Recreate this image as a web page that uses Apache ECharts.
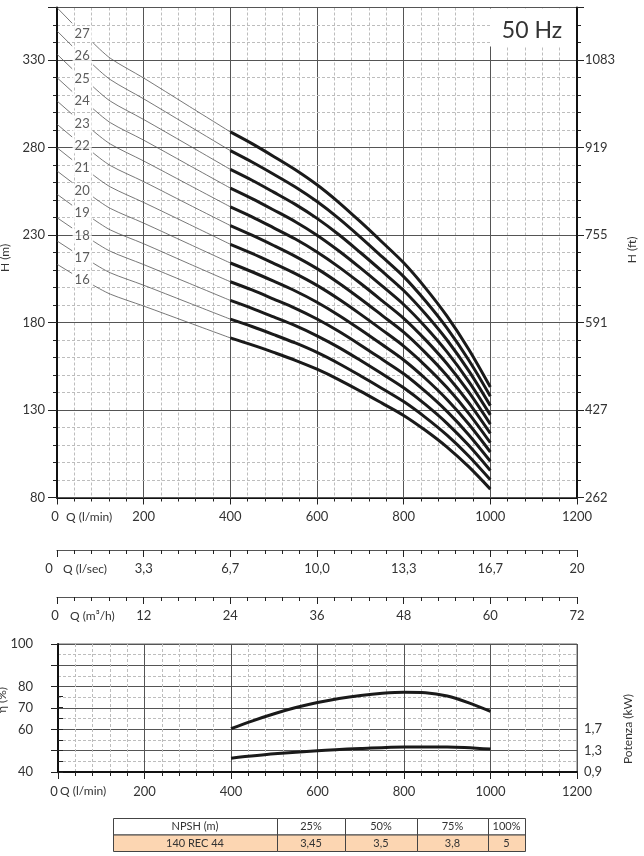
<!DOCTYPE html>
<html>
<head>
<meta charset="utf-8">
<script src="https://cdn.jsdelivr.net/npm/echarts@6/dist/echarts.min.js"></script>
<style>
  html, body { margin: 0; padding: 0; background: #fff; }
  #chart { width: 644px; height: 856px; }
</style>
</head>
<body>
<div id="chart"></div>
<script>
// Q (l/min) where the curves were read: 0-35 stub, 83-400 thin part, 400-1000 thick part
var qPoints = [0, 35, 83, 123, 200, 300, 400, 450, 500, 550, 600, 650, 700, 750, 800, 850, 900, 950, 1000];
var stages = [16, 17, 18, 19, 20, 21, 22, 23, 24, 25, 26, 27];
// H (m) per stage at qPoints
var headCurves = [
  [213.3, 208.0, 201.4, 196.2, 189.4, 180.3, 171.2, 167.2, 162.9, 158.4, 153.3, 147.4, 140.8, 133.9, 126.9, 118.4, 108.8, 97.6, 84.8],
  [226.6, 221.0, 214.0, 208.4, 201.3, 191.6, 181.9, 177.7, 173.1, 168.3, 162.9, 156.6, 149.6, 142.3, 134.8, 125.8, 115.6, 103.7, 90.1],
  [239.9, 234.0, 226.6, 220.7, 213.1, 202.9, 192.6, 188.1, 183.2, 178.2, 172.4, 165.8, 158.4, 150.7, 142.7, 133.2, 122.4, 109.8, 95.4],
  [253.3, 247.0, 239.2, 232.9, 225.0, 214.1, 203.3, 198.6, 193.4, 188.1, 182.0, 175.0, 167.2, 159.0, 150.7, 140.6, 129.2, 115.9, 100.7],
  [266.6, 260.0, 251.8, 245.2, 236.8, 225.4, 214.0, 209.0, 203.6, 198.0, 191.6, 184.2, 176.0, 167.4, 158.6, 148.0, 136.0, 122.0, 106.0],
  [279.9, 273.0, 264.4, 257.5, 248.6, 236.7, 224.7, 219.5, 213.8, 207.9, 201.2, 193.4, 184.8, 175.8, 166.5, 155.4, 142.8, 128.1, 111.3],
  [293.3, 286.0, 277.0, 269.7, 260.5, 247.9, 235.4, 229.9, 224.0, 217.8, 210.8, 202.6, 193.6, 184.1, 174.5, 162.8, 149.6, 134.2, 116.6],
  [306.6, 299.0, 289.6, 282.0, 272.3, 259.2, 246.1, 240.4, 234.1, 227.7, 220.3, 211.8, 202.4, 192.5, 182.4, 170.2, 156.4, 140.3, 121.9],
  [319.9, 312.0, 302.2, 294.2, 284.2, 270.5, 256.8, 250.8, 244.3, 237.6, 229.9, 221.0, 211.2, 200.9, 190.3, 177.6, 163.2, 146.4, 127.2],
  [333.3, 325.0, 314.8, 306.5, 296.0, 281.8, 267.5, 261.3, 254.5, 247.5, 239.5, 230.3, 220.0, 209.3, 198.3, 185.0, 170.0, 152.5, 132.5],
  [346.6, 338.0, 327.3, 318.8, 307.8, 293.0, 278.2, 271.7, 264.7, 257.4, 249.1, 239.5, 228.8, 217.6, 206.2, 192.4, 176.8, 158.6, 137.8],
  [359.9, 351.0, 339.9, 331.0, 319.7, 304.3, 288.9, 282.2, 274.9, 267.3, 258.7, 248.7, 237.6, 226.0, 214.1, 199.8, 183.6, 164.7, 143.1]
];
// where the stage numbers sit (in the gap of each thin line)
var labelQ = 58;
var labelH = [204.3, 216.9, 229.4, 242.6, 255.1, 268.3, 280.9, 293.4, 306.6, 319.1, 332.3, 344.9];

// efficiency and power curves
var qEff = [400, 450, 500, 550, 600, 650, 700, 750, 800, 850, 900, 950, 1000];
var effValues = [60.3, 64.0, 67.3, 70.2, 72.6, 74.5, 75.9, 76.9, 77.4, 77.2, 75.6, 72.4, 68.4];
var qPow = [400, 500, 600, 700, 800, 900, 1000];
var powValues = [1.16, 1.24, 1.30, 1.34, 1.37, 1.37, 1.33];

// tick labels
var hTicks = [80, 130, 180, 230, 280, 330];
var hLabels = ['80', '130', '180', '230', '280', '330'];
var hFtLabels = ['262', '427', '591', '755', '919', '1083'];
var qTicks = [200, 400, 600, 800, 1000, 1200];
var qLminLabels = ['200', '400', '600', '800', '1000', '1200'];
var qLsecLabels = ['3,3', '6,7', '10,0', '13,3', '16,7', '20'];
var qM3hLabels = ['12', '24', '36', '48', '60', '72'];
var effTicks = [40, 60, 70, 80, 100];
var effLabels = ['40', '60', '70', '80', '100'];
var powTicks = [0.9, 1.3, 1.7];
var powLabels = ['0,9', '1,3', '1,7'];

// NPSH table
var npshHead = ['NPSH (m)', '25%', '50%', '75%', '100%'];
var npshRow = ['140 REC 44', '3,45', '3,5', '3,8', '5'];

var FONT = 'Lato, "Open Sans", sans-serif';
var TXT = '#333';

function pick(ticks, labels) {
  return function (v) {
    for (var i = 0; i < ticks.length; i++) {
      if (Math.abs(v - ticks[i]) < 1e-6) return labels[i];
    }
    return '';
  };
}

var majorLine = { show: true, lineStyle: { color: '#555', width: 1 } };
var minorLine = { show: true, lineStyle: { color: '#bdbdbd', width: 1, type: [3, 2] } };
var labelStyle = { fontFamily: FONT, fontSize: 13, color: TXT };

var myChart = echarts.init(document.getElementById('chart'), null, { renderer: 'canvas' });

var series = [];
for (var i = 0; i < stages.length; i++) {
  var pts = [];
  for (var k = 0; k < qPoints.length; k++) pts.push([qPoints[k], headCurves[i][k]]);
  // short stub from Q=0, gap for the label, thin line to 400, thick line 400-1000
  series.push({
    type: 'line', xAxisIndex: 0, yAxisIndex: 0, data: pts.slice(0, 2),
    symbol: 'none', silent: true, lineStyle: { color: '#555', width: 0.8 }
  });
  series.push({
    type: 'line', xAxisIndex: 0, yAxisIndex: 0, data: pts.slice(2, 7),
    symbol: 'none', silent: true, smooth: 0.3,
    lineStyle: { color: '#555', width: 0.8 }
  });
  series.push({
    type: 'line', xAxisIndex: 0, yAxisIndex: 0, data: pts.slice(6),
    symbol: 'none', silent: true, smooth: 0.3,
    lineStyle: { color: '#1a1a1a', width: 3 }
  });
  series.push({
    type: 'scatter', xAxisIndex: 0, yAxisIndex: 0, data: [[labelQ, labelH[i]]],
    symbolSize: 1, itemStyle: { color: 'rgba(0,0,0,0)' }, silent: true, z: 5,
    label: {
      show: true, position: 'inside', formatter: String(stages[i]),
      fontFamily: FONT, fontSize: 13, color: TXT, backgroundColor: '#fff', padding: [1, 2]
    }
  });
}
series.push({
  type: 'line', xAxisIndex: 3, yAxisIndex: 6, symbol: 'none', silent: true, smooth: 0.3,
  data: qEff.map(function (q, j) { return [q, effValues[j]]; }),
  lineStyle: { color: '#1a1a1a', width: 3 }
});
series.push({
  type: 'line', xAxisIndex: 3, yAxisIndex: 7, symbol: 'none', silent: true, smooth: 0.3,
  data: qPow.map(function (q, j) { return [q, powValues[j]]; }),
  lineStyle: { color: '#1a1a1a', width: 3 }
});

function qAxis(grid, labels, opts) {
  var ax = {
    type: 'value', gridIndex: grid, min: 0, max: 1200, interval: 200,
    axisLine: { show: true, lineStyle: { color: '#111', width: 2 } },
    axisTick: { show: true, length: 7, lineStyle: { color: '#222' } },
    minorTick: { show: true, splitNumber: 5, length: 4, lineStyle: { color: '#222' } },
    axisLabel: Object.assign({ formatter: pick(qTicks, labels), margin: 13 }, labelStyle),
    splitLine: { show: false }
  };
  return Object.assign(ax, opts || {});
}

// graphic: titles, 50 Hz box, table
var graphics = [];
function text(x, y, s, size, align, rot) {
  graphics.push({
    type: 'text', x: x, y: y, rotation: rot || 0, z: 100,
    style: { text: s, x: 0, y: 0, fill: TXT, font: size + 'px ' + FONT, align: align || 'center', verticalAlign: 'middle' }
  });
}
text(5, 258, 'H (m)', 12, 'center', Math.PI / 2);
text(632, 250, 'H (ft)', 12, 'center', Math.PI / 2);
text(2, 700, 'η (%)', 12, 'center', Math.PI / 2);
text(628, 729, 'Potenza (kW)', 12, 'center', Math.PI / 2);
text(55, 517, '0', 13, 'center');
text(66, 517, 'Q (l/min)', 12, 'left');
text(49, 569, '0', 13, 'center');
text(63, 569, 'Q (l/sec)', 12, 'left');
text(55, 616, '0', 13, 'center');
text(70, 616, 'Q (m³/h)', 12, 'left');
text(54, 791.5, '0', 13, 'center');
text(60, 791.5, 'Q (l/min)', 12, 'left');

graphics.push({ type: 'rect', z: 90, shape: { x: 490, y: 8.5, width: 86, height: 38 }, style: { fill: '#fff' } });
text(532, 31, '50 Hz', 23, 'center');

var colX = [113, 277, 345, 417, 488, 525];
var rowY = [818, 834.5, 851];
for (var c = 0; c < 5; c++) {
  for (var r = 0; r < 2; r++) {
    graphics.push({
      type: 'rect', z: 90,
      shape: { x: colX[c] + 0.5, y: rowY[r] + 0.5, width: colX[c + 1] - colX[c], height: rowY[r + 1] - rowY[r] },
      style: { fill: r === 0 ? '#fff' : '#fcd6b2', stroke: '#444', lineWidth: 1 }
    });
    text((colX[c] + colX[c + 1]) / 2, (rowY[r] + rowY[r + 1]) / 2 + 0.5, r === 0 ? npshHead[c] : npshRow[c], 11, 'center');
  }
}

var option = {
  animation: false,
  backgroundColor: '#fff',
  grid: [
    { left: 57, top: 7.5, width: 520, height: 490, show: true, borderColor: '#444', borderWidth: 1, containLabel: false, outerBoundsMode: 'none' },
    { left: 57, top: 549, width: 520, height: 1, containLabel: false, outerBoundsMode: 'none' },
    { left: 57, top: 596, width: 520, height: 1, containLabel: false, outerBoundsMode: 'none' },
    { left: 58, top: 644, width: 519, height: 128, show: true, borderColor: '#666', borderWidth: 1, containLabel: false, outerBoundsMode: 'none' },
    { left: 58, top: 696.7, width: 519, height: 75.6, containLabel: false, outerBoundsMode: 'none' }
  ],
  xAxis: [
    qAxis(0, qLminLabels, { splitLine: majorLine, minorSplitLine: minorLine }),
    qAxis(1, qLsecLabels, { axisLine: { show: true, lineStyle: { color: '#555', width: 1.2 } }, axisLabel: Object.assign({ formatter: pick(qTicks, qLsecLabels), margin: 12 }, labelStyle) }),
    qAxis(2, qM3hLabels, { axisLine: { show: true, lineStyle: { color: '#555', width: 1.2 } }, axisLabel: Object.assign({ formatter: pick(qTicks, qM3hLabels), margin: 12 }, labelStyle) }),
    qAxis(3, qLminLabels, { splitLine: majorLine, minorSplitLine: minorLine }),
    { type: 'value', gridIndex: 4, min: 0, max: 1200, show: false }
  ],
  yAxis: [
    { // H (m) major
      type: 'value', gridIndex: 0, position: 'left', min: 80, max: 360, interval: 50, z: 2,
      axisLine: { show: true, lineStyle: { color: '#111', width: 2 } },
      axisTick: { show: true, length: 9, lineStyle: { color: '#222' } },
      axisLabel: Object.assign({ formatter: pick(hTicks, hLabels), margin: 12 }, labelStyle),
      splitLine: majorLine
    },
    { // H (m) minor grid every 10 m
      type: 'value', gridIndex: 0, position: 'left', min: 80, max: 360, interval: 10, z: 1,
      axisLine: { show: false }, axisLabel: { show: false },
      axisTick: { show: true, length: 4, lineStyle: { color: '#222' } },
      splitLine: minorLine
    },
    { // H (ft) major
      type: 'value', gridIndex: 0, position: 'right', min: 80, max: 360, interval: 50, z: 2,
      axisLine: { show: true, lineStyle: { color: '#111', width: 2 } },
      axisTick: { show: true, length: 7, lineStyle: { color: '#222' } },
      axisLabel: Object.assign({ formatter: pick(hTicks, hFtLabels), margin: 8 }, labelStyle),
      splitLine: { show: false }
    },
    {
      type: 'value', gridIndex: 0, position: 'right', min: 80, max: 360, interval: 10, z: 1,
      axisLine: { show: false }, axisLabel: { show: false },
      axisTick: { show: true, length: 4, lineStyle: { color: '#222' } },
      splitLine: { show: false }
    },
    { type: 'value', gridIndex: 1, min: 0, max: 1, show: false },
    { type: 'value', gridIndex: 2, min: 0, max: 1, show: false },
    { // efficiency
      type: 'value', gridIndex: 3, position: 'left', min: 40, max: 100, interval: 10,
      axisLine: { show: true, lineStyle: { color: '#111', width: 2 } },
      axisTick: { show: true, length: 7, lineStyle: { color: '#222' } },
      axisLabel: Object.assign({ formatter: pick(effTicks, effLabels), margin: 25 }, labelStyle),
      splitLine: majorLine,
      minorTick: { show: false, splitNumber: 2 },
      minorSplitLine: minorLine
    },
    { type: 'value', gridIndex: 3, position: 'right', min: 0.9, max: 3.3, show: false },
    { // power scale shown on the lower part only
      type: 'value', gridIndex: 4, position: 'right', min: 0.9, max: 2.3, interval: 0.2,
      axisLine: { show: true, lineStyle: { color: '#111', width: 2 } },
      axisTick: { show: true, length: 5, lineStyle: { color: '#222' } },
      axisLabel: Object.assign({ formatter: pick(powTicks, powLabels), margin: 7 }, labelStyle),
      splitLine: { show: false }
    }
  ],
  graphic: graphics,
  series: series
};

myChart.setOption(option);
</script>
</body>
</html>
